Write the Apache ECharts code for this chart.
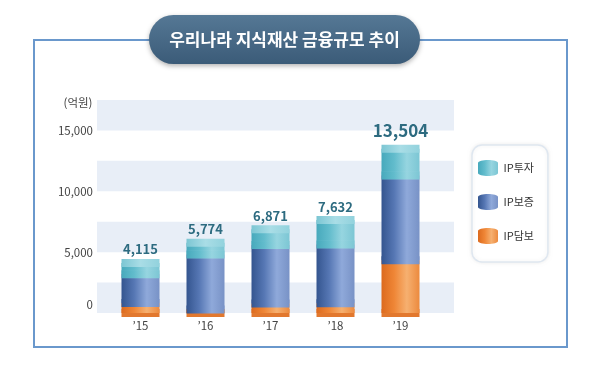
<!DOCTYPE html>
<html><head><meta charset="utf-8">
<script src="https://cdn.jsdelivr.net/npm/echarts@6/dist/echarts.min.js"></script>
<style>html,body{margin:0;padding:0;background:#fff}#c{width:600px;height:381px}</style>
</head><body><div id="c"></div>
<script>
const categories = ['\u201915','\u201916','\u201917','\u201918','\u201919'];
const ipLoan = [820, 285, 790, 795, 4331];        // IP담보
const ipGuarantee = [2380, 4540, 4818, 4850, 6979]; // IP보증
const ipInvest = [915, 949, 1263, 1987, 2194];    // IP투자
const totals = [4115, 5774, 6871, 7632, 13504];
const yTicks = [0, 5000, 10000, 15000];
const seriesNames = ['IP투자', 'IP보증', 'IP담보'];

const FONT = '"Noto Sans CJK KR", "Noto Sans", sans-serif';
const cum1 = ipLoan.slice();
const cum2 = ipLoan.map((v, i) => v + ipGuarantee[i]);
const cum3 = cum2.map((v, i) => v + ipInvest[i]);

function hgrad(stops) {
  return {type: 'linear', x: 0, y: 0, x2: 1, y2: 0,
    colorStops: stops.map((c, i) => ({offset: i / (stops.length - 1), color: c}))};
}
const orangeG = hgrad(['#dc6a1e', '#ef8636', '#f6b070', '#ec8a3e']);
const blueG = hgrad(['#34558f', '#5677b4', '#8fa9da', '#7892c6']);
const tealG = hgrad(['#47a9bc', '#62bccc', '#96d5e0', '#7cc6d4']);
const tealTop = hgrad(['#7cc6d3', '#a9dde6', '#92d2dd']);

const W = 38, EH = 8;
function ell(name, data, color, pos, z, extra) {
  return Object.assign({
    type: 'pictorialBar', name: name, xAxisIndex: 0, yAxisIndex: 0,
    symbol: 'ellipse', symbolSize: [W, EH], symbolPosition: pos,
    symbolOffset: [0, pos === 'end' ? '-50%' : '50%'],
    barGap: '-100%', barWidth: W, z: z, silent: true,
    itemStyle: {color: color}, data: data, tooltip: {show: false},
    legendHoverLink: false
  }, extra || {});
}

const chart = echarts.init(document.getElementById('c'), null, {renderer: 'canvas'});
chart.setOption({
  animation: false,
  textStyle: {fontFamily: FONT},
  grid: [
    {left: 108, right: 167, top: 100, bottom: 68},
    {left: 97, right: 146, top: 100, bottom: 68}
  ],
  xAxis: [
    {type: 'category', gridIndex: 0, data: categories,
     axisLine: {show: false}, axisTick: {show: false},
     axisLabel: {color: '#444', fontSize: 11.5, margin: 7, fontFamily: FONT}},
    {type: 'value', gridIndex: 1, show: false, min: 0, max: 1}
  ],
  yAxis: [
    {type: 'value', gridIndex: 0, min: 0, max: 17500, interval: 5000,
     axisLine: {show: false}, axisTick: {show: false}, splitLine: {show: false},
     axisLabel: {color: '#444', fontSize: 11.5, margin: 15, fontFamily: FONT,
       showMaxLabel: false,
       formatter: v => yTicks.includes(v) ? (v === 0 ? '{z|0}' : v.toLocaleString('en-US')) : '',
       rich: {z: {color: '#444', fontSize: 11.5, fontFamily: FONT, padding: [0, 0, 16, 0]}}}},
    {type: 'value', gridIndex: 1, min: 0, max: 17500, interval: 2500,
     axisLine: {show: false}, axisTick: {show: false}, splitLine: {show: false},
     axisLabel: {show: false},
     splitArea: {show: true, areaStyle: {color: ['#e8eef7', 'rgba(255,255,255,0)']}}}
  ],
  legend: {
    orient: 'vertical', left: 472, top: 145,
    data: seriesNames,
    itemWidth: 25, itemHeight: 16, itemGap: 18,
    padding: [15, 14, 18, 6],
    backgroundColor: '#fff', borderColor: '#dfe7f0', borderWidth: 1.5, borderRadius: 10,
    shadowColor: 'rgba(0,0,0,0.08)', shadowBlur: 4,
    icon: 'path://M0,3 C0,-1 20,-1 20,3 L20,13 C20,17 0,17 0,13 Z',
    textStyle: {color: '#333', fontSize: 11, fontFamily: FONT, padding: [0, 0, 0, -2]},
    selectedMode: false
  },
  series: [
    ell('base', ipLoan.map(() => 0), '#e2782e', 'start', 1),
    {type: 'bar', name: 'IP담보', stack: 'total', barWidth: W, data: ipLoan, z: 2,
     itemStyle: {color: orangeG}},
    {type: 'bar', name: 'IP보증', stack: 'total', barWidth: W, data: ipGuarantee, z: 2,
     itemStyle: {color: blueG}},
    {type: 'bar', name: 'IP투자', stack: 'total', barWidth: W, z: 2,
     itemStyle: {color: tealG},
     data: ipInvest.map((v, i) => i === 4 ? {value: v, label: {fontSize: 17, distance: 10}} : v),
     label: {show: true, position: 'top', distance: 7, color: '#2d6b80', fontWeight: 'bold',
       fontSize: 13, fontFamily: FONT,
       formatter: p => totals[p.dataIndex].toLocaleString('en-US')}},
    ell('b1', cum1, blueG, 'end', 3),
    ell('b2', cum2, tealG, 'end', 3, {itemStyle: {color: tealG, borderColor: 'rgba(210,240,245,0.9)', borderWidth: 1}}),
    ell('top', cum3, tealTop, 'end', 4)
  ],
  graphic: [
    {type: 'rect', shape: {x: 34, y: 40, width: 533, height: 307}, z: 0,
     style: {fill: 'none', stroke: '#6a98cc', lineWidth: 2}},
    {type: 'text', x: 78, y: 103, z: 5,
     style: {text: '(억원)', fill: '#444', font: '11.5px ' + FONT, textAlign: 'center', textVerticalAlign: 'middle'}},
    {type: 'rect', shape: {x: 149, y: 15, width: 271, height: 49, r: 24.5}, z: 10,
     style: {fill: {type: 'linear', x: 0, y: 0, x2: 0, y2: 1,
       colorStops: [{offset: 0, color: '#557895'}, {offset: 1, color: '#3b5b78'}]},
       shadowColor: 'rgba(0,0,0,0.3)', shadowBlur: 5, shadowOffsetY: 2}},
    {type: 'text', x: 284.5, y: 40, z: 11,
     style: {text: '우리나라 지식재산 금융규모 추이', fill: '#fff',
       font: 'bold 17px ' + FONT, textAlign: 'center', textVerticalAlign: 'middle'}}
  ]
});
</script></body></html>
